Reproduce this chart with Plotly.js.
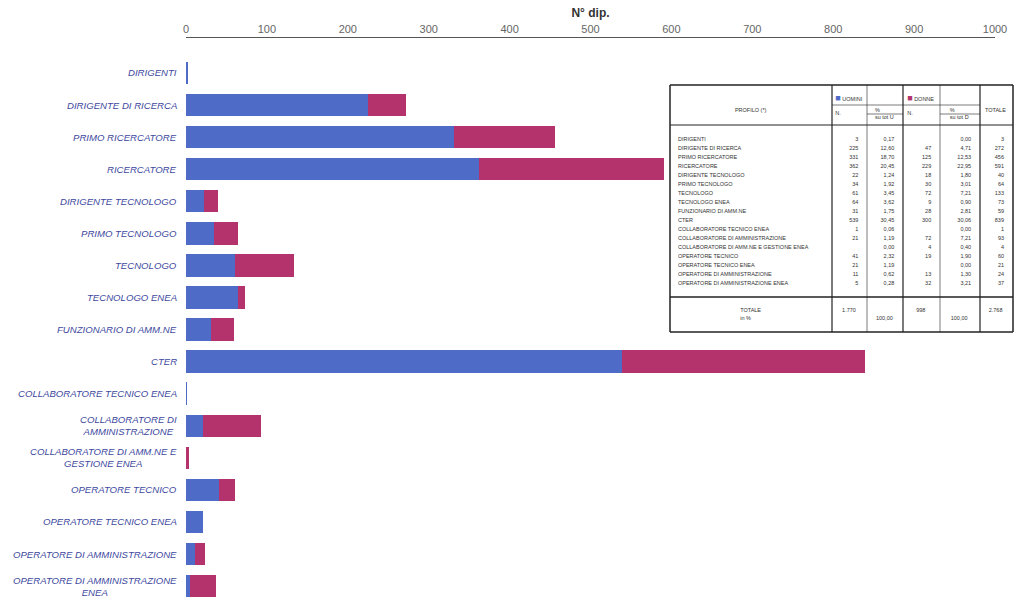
<!DOCTYPE html>
<html><head><meta charset="utf-8">
<script src="https://cdn.plot.ly/plotly-3.0.1.min.js"></script>
<style>html,body{margin:0;padding:0;background:#fff}#chart{width:1014px;height:597px}</style>
</head><body><div id="chart"></div>
<script>
const categories = ["DIRIGENTI","DIRIGENTE DI RICERCA","PRIMO RICERCATORE","RICERCATORE","DIRIGENTE TECNOLOGO","PRIMO TECNOLOGO","TECNOLOGO","TECNOLOGO ENEA","FUNZIONARIO DI AMM.NE","CTER","COLLABORATORE TECNICO ENEA","COLLABORATORE DI<br>AMMINISTRAZIONE","COLLABORATORE DI AMM.NE E<br>GESTIONE ENEA","OPERATORE TECNICO","OPERATORE TECNICO ENEA","OPERATORE DI AMMINISTRAZIONE","OPERATORE DI AMMINISTRAZIONE<br>ENEA"];
const uomini = [3,225,331,362,22,34,61,64,31,539,1,21,0,41,21,11,5];
const donne  = [0,47,125,229,18,30,72,9,28,300,0,72,4,19,0,13,32];
const totale = [3,272,456,591,40,64,133,73,59,839,1,93,4,60,21,24,37];
const pctU = ["0,17","12,60","18,70","20,45","1,24","1,92","3,45","3,62","1,75","30,45","0,06","1,19","0,00","2,32","1,19","0,62","0,28"];
const pctD = ["0,00","4,71","12,53","22,95","1,80","3,01","7,21","0,90","2,81","30,06","0,00","7,21","0,40","1,90","0,00","1,30","3,21"];
const totU = "1.770", totD = "998", totAll = "2.768";
const xTicks = [0,100,200,300,400,500,600,700,800,900,1000];

const BLUE = "#4f6bc8", RED = "#b5336d";
const W = 1014, H = 597;
const yIdx = categories.map((c,i)=>i);
const profRows = categories.map(c=>c.replace("<br>"," "));
const blankZero = a => a.map(v => v === 0 ? "" : String(v));
const sq = col => "<span style='color:"+col+";font-size:9px'>■</span>";
const NB = "\u00a0";

const TFONT = {family:"Liberation Sans, Arial", size:5.5, color:"#333"};

const col0Align = profRows.concat(["",""]).map(()=>"left").concat(["center"]);
const numAlign = col0Align.map((a,i)=> i===col0Align.length-1 ? "center" : "right");

const traces = [
  {type:"bar", orientation:"h", name:"UOMINI", y:yIdx, x:uomini,
   marker:{color:BLUE, line:{width:0}}, hoverinfo:"x"},
  {type:"bar", orientation:"h", name:"DONNE", y:yIdx, x:donne,
   marker:{color:RED, line:{width:0}}, hoverinfo:"x"},
  {type:"table",
   domain:{x:[670/W, 1013/W], y:[1-332/H, 1-85/H]},
   columnwidth:[162,35,36,37,40,33],
   header:{
     values:[NB+"<br>"+NB+"<br>PROFILO (*)", sq(BLUE)+" UOMINI<br>"+NB+"<br>N.", NB+"<br>"+NB+"<br>%<br>su tot U",
             sq(RED)+" DONNE<br>"+NB+"<br>N.", NB+"<br>"+NB+"<br>%<br>su tot D", NB+"<br>"+NB+"<br>TOTALE"],
     align:"center", height:40,
     line:{color:"rgba(0,0,0,0)", width:0},
     fill:{color:"rgba(0,0,0,0)"},
     font:TFONT
   },
   cells:{
     values:[
       profRows.concat(["", "", "TOTALE<br>in %"]),
       blankZero(uomini).concat(["", "", totU]),
       pctU.concat(["", "", NB+"<br>100,00"]),
       blankZero(donne).concat(["", "", totD]),
       pctD.concat(["", "", NB+"<br>100,00"]),
       totale.map(String).concat(["", "", totAll])
     ],
     align:[col0Align, numAlign, numAlign, numAlign, numAlign, numAlign],
     height:9,
     line:{color:"rgba(0,0,0,0)", width:0},
     fill:{color:"rgba(0,0,0,0)"},
     font:TFONT
   }
  }
];

// table frame lines (paper coordinates)
const px = v => v / W, py = v => 1 - v / H;
const colX = [670, 832, 867, 903, 940, 980, 1013];
const shapes = [];
const ln = (x0,y0,x1,y1,w) => shapes.push({type:"line", xref:"paper", yref:"paper",
  x0:px(x0), y0:py(y0), x1:px(x1), y1:py(y1), line:{color:"#222", width:w}});
ln(670,85,1013,85,1.5); ln(670,332,1013,332,1.5);
ln(670,85,670,332,1.5); ln(1013,85,1013,332,1.5);
for (let i=1;i<colX.length-1;i++) ln(colX[i],85,colX[i],332,(i%2===1)?1.2:0.6);
ln(670,125,1013,125,1); ln(670,297,1013,297,1.5);
ln(832,105,980,105,0.6);
ln(867,114,903,114,0.6); ln(940,114,980,114,0.6);

const annotations = categories.map((c,i)=>({
  xref:"paper", yref:"y", x:179/W, y:i, xanchor:"right", yanchor:"middle",
  text:c, showarrow:false, align:"center",
  font:{family:"Liberation Sans, Arial", size:9.6, color:"#4049a0", style:"italic"}
}));

const layout = {
  width:W, height:H,
  margin:{l:0, r:0, t:0, b:0},
  paper_bgcolor:"#fff", plot_bgcolor:"#fff",
  barmode:"stack", bargap:0.3,
  showlegend:false,
  xaxis:{
    domain:[186/W, 995/W], side:"top", range:[0,1000],
    tickvals:xTicks, ticktext:xTicks.map(String),
    showgrid:false, zeroline:false, showline:true, linecolor:"#555", linewidth:1,
    ticks:"", automargin:false,
    tickfont:{family:"Liberation Sans, Arial", size:11, color:"#666"},
    title:{text:"N° dip.", standoff:2, font:{family:"Liberation Sans, Arial", size:12, color:"#333", weight:"bold"}}
  },
  yaxis:{
    domain:[0, 1-38/H], range:[16.34, -1.09],
    tickvals:yIdx, showticklabels:false,
    showgrid:false, zeroline:false, showline:false, ticks:"", automargin:false
  },
  shapes:shapes,
  annotations:annotations
};

Plotly.newPlot("chart", traces, layout, {displayModeBar:false, staticPlot:true});
</script></body></html>
